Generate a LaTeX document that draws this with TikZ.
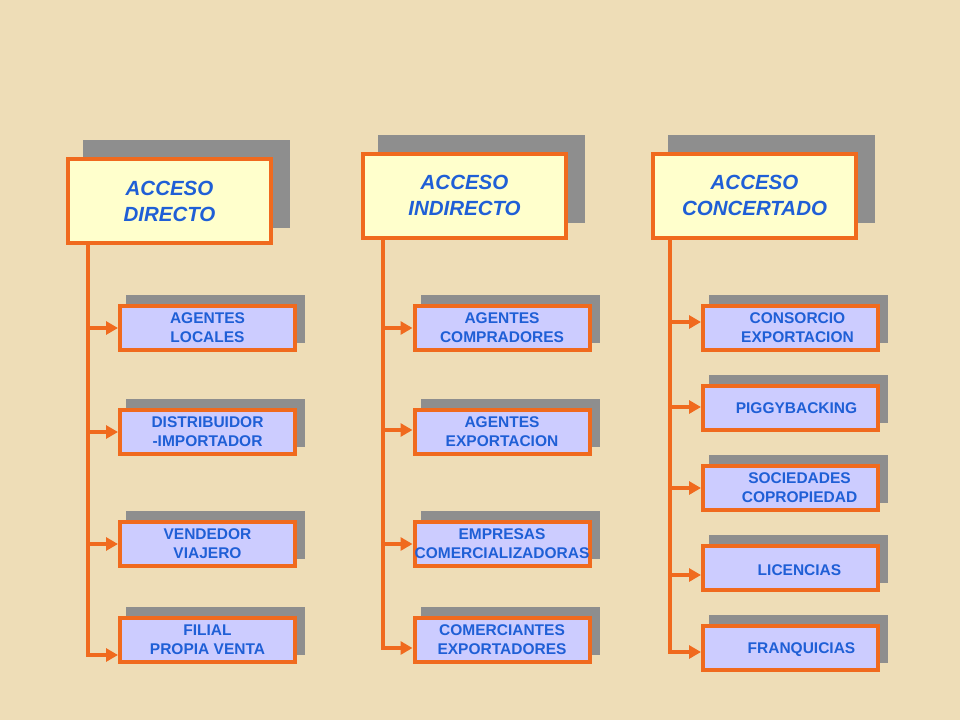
\documentclass[tikz,border=0pt]{standalone}
\usepackage{fontspec}
\setmainfont{Liberation Sans}
\usetikzlibrary{arrows.meta}
\pgfdeclarelayer{paper}
\pgfdeclarelayer{shade}
\pgfsetlayers{paper,shade,main}
\definecolor{paperc}{HTML}{EEDDB7}
\definecolor{orangec}{HTML}{F06A1E}
\definecolor{headfill}{HTML}{FFFFCC}
\definecolor{childfill}{HTML}{CCCCFF}
\definecolor{shadowc}{HTML}{8E8E8E}
\definecolor{textblue}{HTML}{1F5FD6}
\tikzset{
  headbox/.style={draw=orangec, line width=4pt, fill=headfill, minimum width=203pt, minimum height=84pt, inner sep=0pt, align=center, text=textblue, font=\fontsize{20.5}{26}\selectfont\bfseries\itshape},
  childbox/.style={draw=orangec, line width=4pt, fill=childfill, minimum width=175pt, minimum height=44pt, inner sep=0pt, align=center, text=textblue, font=\fontsize{15.5}{19}\selectfont\bfseries},
  childtxt/.style={align=center, text=textblue, font=\fontsize{15.5}{19}\selectfont\bfseries, inner sep=0pt},
  conn/.style={draw=orangec, line width=4pt, -{Triangle[length=12pt,width=13pt]}},
}
\newcommand{\shadowof}[3]{%
  \begin{pgfonlayer}{shade}
  \fill[shadowc] ([shift={(#2,-#3)}]#1.south west) rectangle ([shift={(#2,-#3)}]#1.north east);
  \end{pgfonlayer}}
\begin{document}
\begin{tikzpicture}[x=1pt,y=-1pt]
\begin{pgfonlayer}{paper}
\fill[paperc] (0,0) rectangle (960,720);
\end{pgfonlayer}
\useasboundingbox (0,0) rectangle (960,720);

% headers
\node[headbox] (h1) at (169.5,201) {ACCESO\\DIRECTO};
\node[headbox] (h2) at (464.5,195.5) {ACCESO\\INDIRECTO};
\node[headbox] (h3) at (754.5,195.5) {ACCESO\\CONCERTADO};
\shadowof{h1}{17}{17}
\shadowof{h2}{17}{17}
\shadowof{h3}{17}{17}

% column 1
\node[childbox] (c11) at (207.5,328) {AGENTES\\LOCALES};
\node[childbox] (c12) at (207.5,432) {DISTRIBUIDOR\\-IMPORTADOR};
\node[childbox] (c13) at (207.5,544) {VENDEDOR\\VIAJERO};
\node[childbox] (c14) at (207.5,640) {FILIAL\\PROPIA VENTA};
% column 2
\node[childbox] (c21) at (502,328) {AGENTES\\COMPRADORES};
\node[childbox] (c22) at (502,432) {AGENTES\\EXPORTACION};
\node[childbox] (c23) at (502,544) {EMPRESAS\\\makebox[0pt]{COMERCIALIZADORAS}};
\node[childbox] (c24) at (502,640) {COMERCIANTES\\EXPORTADORES};
% column 3
\node[childbox] (c31) at (790.5,328) {};
\node[childbox] (c32) at (790.5,408) {};
\node[childbox] (c33) at (790.5,488) {};
\node[childbox] (c34) at (790.5,568) {};
\node[childbox] (c35) at (790.5,648) {};
\node[childtxt] (t31) at ([xshift=7]c31.center) {CONSORCIO\\EXPORTACION};
\node[childtxt] (t32) at ([xshift=6]c32.center) {PIGGYBACKING};
\node[childtxt] (t33) at ([xshift=9]c33.center) {SOCIEDADES\\COPROPIEDAD};
\node[childtxt] (t34) at ([xshift=9,yshift=-2]c34.center) {LICENCIAS};
\node[childtxt] (t35) at ([xshift=11,yshift=-2]c35.center) {FRANQUICIAS};

\foreach \n in {c11,c12,c13,c14,c21,c22,c23,c24,c31,c32,c33,c34,c35}{
  \shadowof{\n}{8}{9}
}

% trunk coordinates
\coordinate (t1) at (88,243);
\coordinate (t2) at (383,238);
\coordinate (t3) at (670,238);

\draw[conn] (t1) |- (c11.west);
\draw[conn] (t1) |- (c12.west);
\draw[conn] (t1) |- (c13.west);
\draw[conn] (t1) |- ([yshift=-15]c14.west);

\draw[conn] (t2) |- (c21.west);
\draw[conn] (t2) |- ([yshift=2]c22.west);
\draw[conn] (t2) |- (c23.west);
\draw[conn] (t2) |- ([yshift=-8]c24.west);

\draw[conn] (t3) |- ([yshift=6]c31.west);
\draw[conn] (t3) |- ([yshift=1]c32.west);
\draw[conn] (t3) |- (c33.west);
\draw[conn] (t3) |- ([yshift=-7]c34.west);
\draw[conn] (t3) |- ([yshift=-4]c35.west);
\end{tikzpicture}
\end{document}
